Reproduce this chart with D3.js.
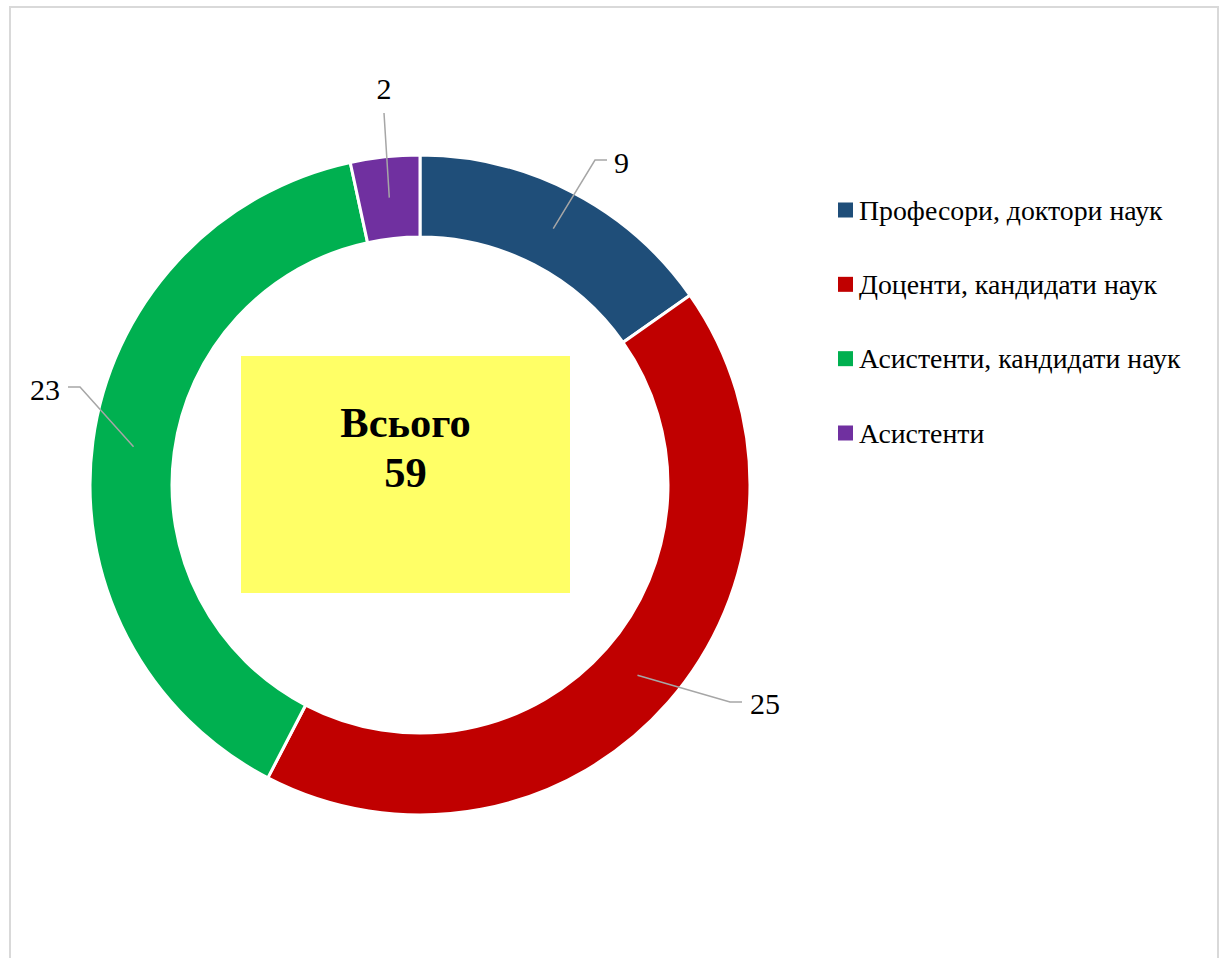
<!DOCTYPE html>
<html>
<head>
<meta charset="utf-8">
<script src="https://cdn.jsdelivr.net/npm/d3@7"></script>
<style>
  html, body { margin: 0; padding: 0; background: #fff; }
  svg { display: block; }
  text { font-family: "Liberation Serif", "Times New Roman", serif; }
</style>
</head>
<body>
<svg id="chart" width="1222" height="958"></svg>
<script>
// ---- data ----
const categories = ["Професори, доктори наук", "Доценти, кандидати наук", "Асистенти, кандидати наук", "Асистенти"];
const values = [9, 25, 23, 2];
const colors = ["#1F4E79", "#C00000", "#00B050", "#7030A0"];
const totalLabel = "Всього";

// ---- layout (styles/positions, not data) ----
const W = 1222, H = 958;
const cx = 420, cy = 485, rOuter = 330, rInner = 248;
// label placement: elbow point and text anchor relative to chart center
const labelLayout = [
  { elbow: [175, -325], end: [187, -325], text: [194, -323], anchor: "start" },   // 9
  { elbow: [310, 217], end: [322, 217], text: [330, 218], anchor: "start" },      // 25
  { elbow: [-340, -98], end: [-352, -98], text: [-360, -96], anchor: "end" },     // 23
  { elbow: null, end: [-36, -372], text: [-36, -397], anchor: "middle" }          // 2
];

const svg = d3.select("#chart");

// frame
svg.append("rect")
  .attr("x", 10).attr("y", 7).attr("width", 1208).attr("height", 980)
  .attr("fill", "#fff").attr("stroke", "#d9d9d9").attr("stroke-width", 2);

const g = svg.append("g").attr("transform", `translate(${cx},${cy})`);

const pie = d3.pie().sort(null).value(d => d)(values);
const arc = d3.arc().innerRadius(rInner).outerRadius(rOuter);
const mid = d3.arc().innerRadius((rInner + rOuter) / 2).outerRadius((rInner + rOuter) / 2);

g.selectAll("path.slice")
  .data(pie)
  .join("path")
  .attr("class", "slice")
  .attr("d", arc)
  .attr("fill", (d, i) => colors[i])
  .attr("stroke", "#fff")
  .attr("stroke-width", 3);

// leader lines
g.selectAll("polyline.leader")
  .data(pie)
  .join("polyline")
  .attr("class", "leader")
  .attr("points", (d, i) => {
    const c = mid.centroid(d);
    const L = labelLayout[i];
    const pts = [c];
    if (L.elbow) pts.push(L.elbow);
    pts.push(L.end);
    return pts.map(p => p.join(",")).join(" ");
  })
  .attr("fill", "none")
  .attr("stroke", "#a6a6a6")
  .attr("stroke-width", 1.5);

// data labels
g.selectAll("text.dlabel")
  .data(pie)
  .join("text")
  .attr("class", "dlabel")
  .attr("x", (d, i) => labelLayout[i].text[0])
  .attr("y", (d, i) => labelLayout[i].text[1])
  .attr("text-anchor", (d, i) => labelLayout[i].anchor)
  .attr("dominant-baseline", "central")
  .attr("font-size", 30)
  .attr("fill", "#000")
  .text(d => d.data);

// center yellow box
const box = { x: 241, y: 356, w: 329, h: 237 };
svg.append("rect")
  .attr("x", box.x).attr("y", box.y).attr("width", box.w).attr("height", box.h)
  .attr("fill", "#FFFF66");

const total = d3.sum(values);
svg.append("text")
  .attr("x", box.x + box.w / 2).attr("y", 437)
  .attr("text-anchor", "middle")
  .attr("font-size", 42.5).attr("font-weight", "bold")
  .text(totalLabel);
svg.append("text")
  .attr("x", box.x + box.w / 2).attr("y", 487)
  .attr("text-anchor", "middle")
  .attr("font-size", 42.5).attr("font-weight", "bold")
  .text(total);

// legend
const legendY = d3.scalePoint().domain(categories).range([210, 433]);
const leg = svg.append("g").selectAll("g")
  .data(categories)
  .join("g")
  .attr("transform", d => `translate(838,${legendY(d)})`);
leg.append("rect")
  .attr("x", 0).attr("y", -7.5).attr("width", 15).attr("height", 15)
  .attr("fill", (d, i) => colors[i]);
leg.append("text")
  .attr("x", 21).attr("y", 0)
  .attr("dominant-baseline", "central")
  .attr("font-size", 27.8)
  .attr("fill", "#000")
  .text(d => d);
</script>
</body>
</html>
